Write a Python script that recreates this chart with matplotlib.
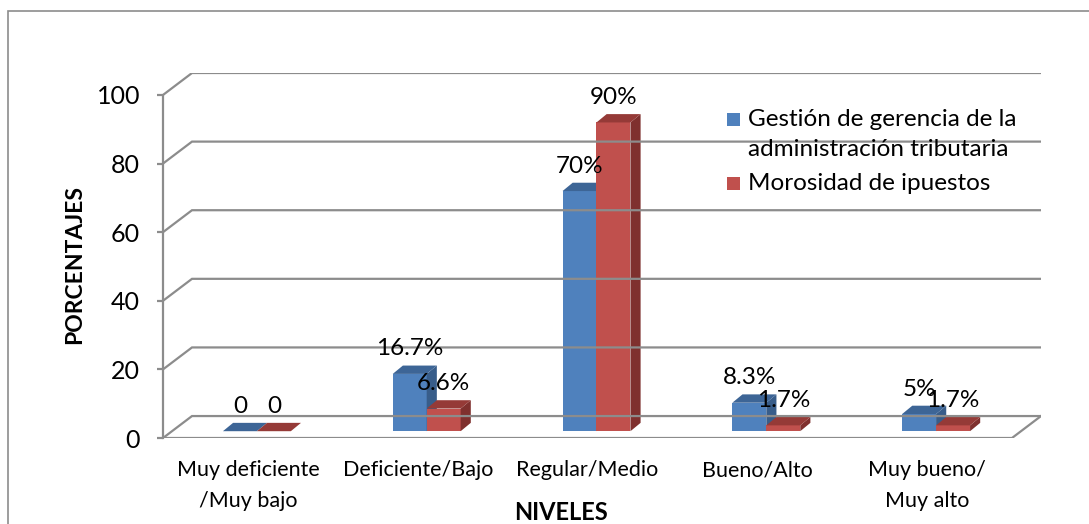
import numpy as np
import matplotlib.pyplot as plt
from matplotlib.patches import Polygon, Rectangle

plt.rcParams['font.family'] = ['Lato', 'DejaVu Sans']

categorias = ['Muy deficiente\n/Muy bajo', 'Deficiente/Bajo', 'Regular/Medio',
              'Bueno/Alto', 'Muy bueno/\nMuy alto']
gestion = [0, 16.7, 70, 8.3, 5]
morosidad = [0, 6.6, 90, 1.7, 1.7]
etq_gestion = ['0', '16.7%', '70%', '8.3%', '5%']
etq_morosidad = ['0', '6.6%', '90%', '1.7%', '1.7%']
series = [['Gestión de gerencia de la', 'administración tributaria'], ['Morosidad de ipuestos']]

# colores: frente, tapa, lado
azul = ('#4F81BD', '#3D6596', '#385D8A')
rojo = ('#C0504D', '#953A37', '#7F302E')
gris = '#8C8C8C'

W, H = 1089, 524
fig = plt.figure(figsize=(W / 100, H / 100), dpi=100)
ax = fig.add_axes([163 / W, 1 - 438 / H, (1041 - 163) / W, (438 - 73) / H])

n = len(categorias)
DX = 29 / 169.8   # profundidad del piso (en unidades de categoria)
DY = 6.4          # profundidad en unidades del eje y
ax.set_xlim(0, n + DX)
ax.set_ylim(0, 100 + DY)

ticks = np.arange(0, 101, 20)
# pared del fondo
for v in ticks:
    ax.plot([0, DX, n + DX], [v, v + DY, v + DY], color=gris, lw=1.6, solid_joinstyle='miter')
ax.plot([0, n, n + DX], [0, 0, DY], color=gris, lw=1.6)

for s in ['top', 'right', 'bottom']:
    ax.spines[s].set_visible(False)
ax.spines['left'].set_bounds(0, 100)
ax.spines['left'].set_color(gris)
ax.spines['left'].set_linewidth(1.6)
ax.set_yticks(ticks)
ax.tick_params(axis='y', length=4.5, width=1.6, color=gris, pad=12, labelsize=18)
ax.set_xticks(np.arange(n) + 0.5)
ax.set_xticklabels(categorias, fontsize=15.5, linespacing=1.7)
ax.tick_params(axis='x', length=0, pad=16)
for t in ax.get_xticklabels():
    t.set_verticalalignment('top')

ax.set_ylabel('PORCENTAJES', fontsize=16.5, fontweight='bold')
ax.yaxis.set_label_coords(-0.089, 0.474)
ax.set_xlabel('NIVELES', fontsize=17, fontweight='bold')
ax.xaxis.set_label_coords(0.453, -0.203)
ax.xaxis.label.set_verticalalignment('center')

# barras con efecto 3D
w = 0.2
f = 0.31
ox, oy = f * DX, f * DY
sdx, sdy = 0.35 * DX, 0.38 * DY


def barra(x0, v, cols, etq):
    x1 = x0 + w
    y0 = oy
    y1 = oy + v
    if v > 0:
        ax.add_patch(Polygon([(x0, y0), (x1, y0), (x1, y1), (x0, y1)], closed=True, fc=cols[0], ec='none'))
        ax.add_patch(Polygon([(x1, y0), (x1 + sdx, y0 + sdy), (x1 + sdx, y1 + sdy), (x1, y1)],
                             closed=True, fc=cols[2], ec='none'))
    ax.add_patch(Polygon([(x0, y1), (x1, y1), (x1 + sdx, y1 + sdy), (x0 + sdx, y1 + sdy)],
                         closed=True, fc=cols[1], ec='none'))
    ax.annotate(etq, (x0 + w / 2, y1), xytext=(0, 18), textcoords='offset points',
                ha='center', va='center', fontsize=17.5)


for i in range(n):
    c = i + 0.5 + ox
    barra(c - w, gestion[i], azul, etq_gestion[i])
    barra(c, morosidad[i], rojo, etq_morosidad[i])

# leyenda (cuadro alineado con la primera linea como en Excel)
y = 119
for lineas, col in zip(series, [azul[0], rojo[0]]):
    fig.patches.append(Rectangle((727 / W, 1 - (y + 6.5) / H), 13 / W, 13 / H,
                                 transform=fig.transFigure, fc=col, ec='none'))
    for ln in lineas:
        fig.text(748 / W, 1 - y / H, ln, fontsize=17.5, va='center', ha='left')
        y += 31
    y += 3

fig.patches.append(Rectangle((7.5 / W, -0.1), 1.2, 1 - 10.5 / H + 0.1, transform=fig.transFigure,
                             fill=False, ec='#8C8C8C', lw=1.2))

fig.savefig('out.png', dpi=100)
